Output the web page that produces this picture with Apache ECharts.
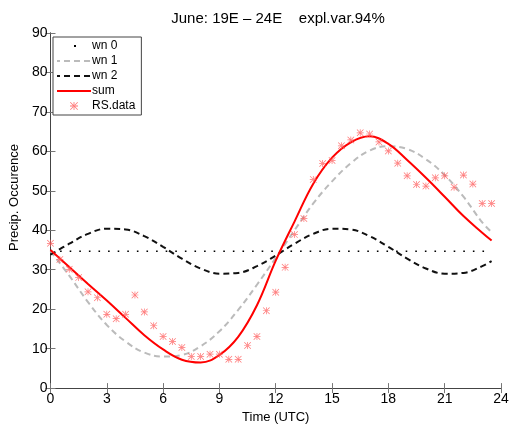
<!DOCTYPE html>
<html>
<head>
<meta charset="utf-8">
<script src="https://cdn.jsdelivr.net/npm/echarts@6/dist/echarts.min.js"></script>
<style>
  html, body { margin: 0; padding: 0; background: #fff; }
  #chart { width: 512px; height: 429px; }
</style>
</head>
<body>
<div id="chart"></div>
<script>
  // harmonic curves, read every hour (last point at 23.5)
  const hours = [0, 1, 2, 3, 4, 5, 6, 7, 8, 9, 10, 11, 12, 13, 14, 15, 16, 17, 18, 19, 20, 21, 22, 23, 23.5];
  const wn0 = [34.7, 34.7, 34.7, 34.7, 34.7, 34.7, 34.7, 34.7, 34.7, 34.7, 34.7, 34.7, 34.7,
               34.7, 34.7, 34.7, 34.7, 34.7, 34.7, 34.7, 34.7, 34.7, 34.7, 34.7, 34.7];
  const wn1 = [34.7, 28.5, 21.8, 16.0, 11.8, 9.0, 8.0, 8.4, 10.6, 14.4, 19.8, 26.2, 33.0,
               40.0, 46.8, 52.4, 57.0, 60.2, 61.3, 60.6, 58.0, 54.0, 48.5, 42.0, 39.5];
  const wn2 = [33.8, 36.6, 39.1, 40.4, 40.2, 38.5, 35.8, 32.8, 30.3, 29.0, 29.2, 30.9, 33.6,
               36.6, 39.1, 40.4, 40.2, 38.5, 35.8, 32.8, 30.3, 29.0, 29.2, 30.9, 32.2];
  const sumCurve = [35.0, 30.7, 26.4, 22.2, 17.8, 13.4, 9.8, 7.2, 6.5, 8.4, 13.0, 21.0, 32.3,
                    42.2, 51.8, 58.4, 62.3, 63.8, 61.9, 57.8, 53.3, 48.5, 43.6, 39.4, 37.4];

  // observations, every half hour
  const rsTime = [0, 0.5, 1, 1.5, 2, 2.5, 3, 3.5, 4, 4.5, 5, 5.5, 6, 6.5, 7, 7.5, 8, 8.5, 9, 9.5,
                  10, 10.5, 11, 11.5, 12, 12.5, 13, 13.5, 14, 14.5, 15, 15.5, 16, 16.5, 17, 17.5,
                  18, 18.5, 19, 19.5, 20, 20.5, 21, 21.5, 22, 22.5, 23, 23.5];
  const rsData = [36.7, 32.6, 30.1, 28.0, 24.4, 22.9, 18.7, 17.6, 18.7, 23.6, 19.3, 15.8, 13.1, 11.8,
                  10.3, 8.0, 8.0, 8.6, 8.6, 7.3, 7.3, 10.8, 13.1, 19.6, 24.3, 30.6, 38.9, 43.0,
                  52.9, 56.9, 57.7, 61.4, 62.9, 64.7, 64.4, 62.4, 60.1, 57.0, 53.8, 51.6, 51.2, 53.3,
                  53.8, 50.9, 54.0, 51.7, 46.8, 46.8];

  const font = 'Helvetica, Arial, "Liberation Sans", sans-serif';
  const zip = (xs, ys) => xs.map((x, i) => [x, ys[i]]);

  // 8-arm asterisk like the matlab '*' marker
  const asterisk = 'path://M4.5,0H5.5V10H4.5Z M0,4.5H10V5.5H0Z ' +
    'M0,0.7L0.7,0L10,9.3L9.3,10Z M10,0.7L9.3,0L0,9.3L0.7,10Z';

  const chart = echarts.init(document.getElementById('chart'), null, { renderer: 'canvas' });

  const axisLine = { show: true, lineStyle: { color: '#444', width: 1 } };
  const axisTick = { show: true, inside: true, length: 5, lineStyle: { color: '#777' } };
  const noSymbol = { opacity: 0 };

  chart.setOption({
    animation: false,
    backgroundColor: '#fff',
    textStyle: { fontFamily: font },
    title: {
      text: 'June: 19E \u2013 24E    expl.var.94%',
      left: 273,
      textAlign: 'center',
      top: 6,
      textStyle: { fontSize: 15, fontWeight: 'normal', color: '#000', fontFamily: font }
    },
    grid: { left: 48, right: 11, top: 33, bottom: 40 },
    legend: {
      orient: 'vertical',
      left: 53,
      top: 37,
      padding: [3, 6, 3, 3],
      itemGap: 3,
      itemWidth: 34,
      itemHeight: 8,
      backgroundColor: '#fff',
      borderColor: '#444',
      borderWidth: 1,
      borderRadius: 0,
      textStyle: { fontSize: 12, color: '#000', fontFamily: font, padding: [0, 0, 0, -4] },
      data: [
        { name: 'wn 0', itemStyle: noSymbol, lineStyle: { type: [2, 60], dashOffset: -17, width: 2 } },
        { name: 'wn 1', itemStyle: noSymbol },
        { name: 'wn 2', itemStyle: noSymbol },
        { name: 'sum', itemStyle: noSymbol },
        'RS.data'
      ]
    },
    xAxis: [{
      type: 'value',
      min: 0,
      max: 24,
      interval: 3,
      name: 'Time (UTC)',
      nameLocation: 'middle',
      nameGap: 19,
      nameTextStyle: { fontSize: 13, color: '#000' },
      axisLine: axisLine,
      axisTick: axisTick,
      axisLabel: { fontSize: 14, color: '#000', margin: 4 },
      splitLine: { show: false }
    }, {
      type: 'value',
      position: 'top',
      min: 0,
      max: 24,
      interval: 3,
      axisLine: axisLine,
      axisTick: axisTick,
      axisLabel: { show: false },
      splitLine: { show: false }
    }],
    yAxis: [{
      type: 'value',
      min: 0,
      max: 90,
      interval: 10,
      name: 'Precip. Occurence',
      nameLocation: 'middle',
      nameGap: 29,
      nameTextStyle: { fontSize: 13, color: '#000', padding: [0, 0, 0, 26] },
      axisLine: axisLine,
      axisTick: axisTick,
      axisLabel: { fontSize: 14, color: '#000', margin: 3 },
      splitLine: { show: false }
    }, {
      type: 'value',
      position: 'right',
      min: 0,
      max: 90,
      interval: 10,
      axisLine: axisLine,
      axisTick: axisTick,
      axisLabel: { show: false },
      splitLine: { show: false }
    }],
    series: [{
      name: 'wn 0',
      type: 'line',
      data: zip(hours, wn0),
      symbol: 'none',
      color: '#000',
      lineStyle: { color: '#000', width: 1.6, type: [1.6, 8] },
      z: 2
    }, {
      name: 'wn 1',
      type: 'line',
      data: zip(hours, wn1),
      smooth: 0.4,
      symbol: 'none',
      color: '#bbb',
      lineStyle: { color: '#bbb', width: 2, type: [6, 4] },
      z: 3
    }, {
      name: 'wn 2',
      type: 'line',
      data: zip(hours, wn2),
      smooth: 0.4,
      symbol: 'none',
      color: '#111',
      lineStyle: { color: '#111', width: 2, type: [6, 4] },
      z: 4
    }, {
      name: 'sum',
      type: 'line',
      data: zip(hours, sumCurve),
      smooth: 0.4,
      symbol: 'none',
      color: '#ff0000',
      lineStyle: { color: '#ff0000', width: 2 },
      z: 5
    }, {
      name: 'RS.data',
      type: 'scatter',
      data: zip(rsTime, rsData),
      symbol: asterisk,
      symbolSize: 7,
      color: '#ff5a5a',
      itemStyle: { color: '#ff5a5a', opacity: 0.85 },
      z: 6
    }]
  });
</script>
</body>
</html>
